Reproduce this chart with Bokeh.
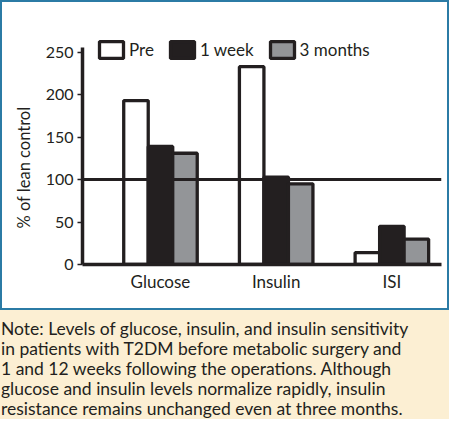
from bokeh.plotting import figure
from bokeh.models import Range1d, Span, Legend, LegendItem, Div, FixedTicker, ColumnDataSource, Title
from bokeh.layouts import column
from bokeh.transform import dodge
from bokeh.embed import file_html
from bokeh.resources import INLINE

# ---- data ----
categories = ["Glucose", "Insulin", "ISI"]
series_names = ["Pre", "1 week", "3 months"]
pre = [193, 233, 14]
week1 = [139, 103, 45]
month3 = [131, 95, 30]
y_ticks = [0, 50, 100, 150, 200, 250]
reference_level = 100
y_label = "% of lean control"
note_lines = [
    "Note: Levels of glucose, insulin, and insulin sensitivity",
    "in patients with T2DM before metabolic surgery and",
    "1 and 12 weeks following the operations. Although",
    "glucose and insulin levels normalize rapidly, insulin",
    "resistance remains unchanged even at three months.",
]

# ---- styles ----
INK = "#231f20"
GRAY = "#939598"
CREAM = "#fcefd3"
BLUE = "#2b7ba5"
FONT = "Lato"
BW = 0.2118

src = ColumnDataSource(dict(x=list(range(len(categories))), pre=pre, week1=week1, month3=month3))

p = figure(width=449, height=310, x_range=Range1d(-0.674, 2.429), y_range=Range1d(0, 268.5),
           output_backend="svg", toolbar_location=None,
           min_border_left=82, min_border_right=8, min_border_top=36, min_border_bottom=46)
p.background_fill_color = "white"
p.border_fill_alpha = 0
p.outline_line_color = None
p.grid.visible = False
p.styles = {"background-color": "white", "box-shadow": f"inset 0 0 0 2px {BLUE}"}

r_pre = p.vbar(x=dodge("x", -BW), top="pre", width=BW, source=src,
               fill_color="white", line_color=INK, line_width=3.3)
r_wk = p.vbar(x="x", top="week1", width=BW, source=src,
              fill_color=INK, line_color=INK, line_width=3.3)
r_m3 = p.vbar(x=dodge("x", BW), top="month3", width=BW, source=src,
              fill_color=GRAY, line_color=INK, line_width=3.3)

p.add_layout(Span(location=reference_level, dimension="width", line_color=INK, line_width=3))

# axes
for ax in (p.xaxis[0], p.yaxis[0]):
    ax.axis_line_color = INK
    ax.axis_line_width = 3.5
    ax.minor_tick_line_color = None
    ax.major_label_text_font = FONT
    ax.major_label_text_color = INK

p.xaxis.ticker = FixedTicker(ticks=list(range(len(categories))))
p.xaxis.major_label_overrides = {i: c for i, c in enumerate(categories)}
p.xaxis.major_tick_line_color = None
p.xaxis.major_label_standoff = 0
p.xaxis.major_label_text_font_size = "17px"

p.yaxis.bounds = (0, 255.5)
p.yaxis.ticker = FixedTicker(ticks=y_ticks)
p.yaxis.major_label_text_font_size = "16px"
p.yaxis.major_tick_in = 0
p.yaxis.major_tick_out = 5
p.yaxis.major_tick_line_width = 1.5
p.yaxis.major_tick_line_color = INK
p.yaxis.major_label_standoff = 4

# y axis title, anchored near the bottom like the reference
p.add_layout(Title(text=y_label, align="left", offset=36, standoff=18,
                   text_font=FONT, text_font_size="16.5px", text_font_style="normal",
                   text_color=INK), "left")

legend = Legend(items=[LegendItem(label=n, renderers=[r]) for n, r in zip(series_names, [r_pre, r_wk, r_m3])],
                orientation="horizontal", location=(14, 204),
                glyph_width=30, glyph_height=21, label_height=21, label_standoff=3, spacing=13,
                padding=0, margin=0, border_line_color=None, background_fill_alpha=0,
                label_text_font=FONT, label_text_font_size="17px", label_text_color=INK)
p.add_layout(legend)

div = Div(text="<br>".join(note_lines), width=448, height=100, margin=(9, 0, 0, 1),
          styles={"font-family": FONT, "font-size": "17.5px", "line-height": "20px", "color": INK})

layout = column(p, div, width=449, spacing=0, styles={"background-color": CREAM})

open("out.html", "w").write(file_html(layout, INLINE))
